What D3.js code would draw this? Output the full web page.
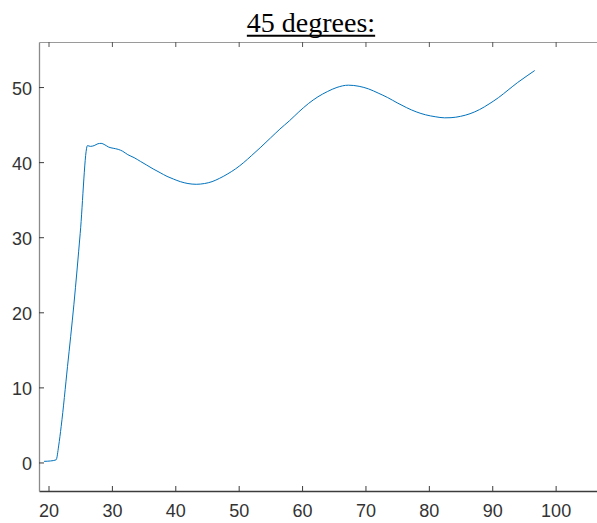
<!DOCTYPE html>
<html>
<head>
<meta charset="utf-8">
<script src="https://cdn.jsdelivr.net/npm/d3@7"></script>
<style>
  html, body { margin: 0; padding: 0; background: #fff; }
  svg { display: block; }
  .tick text { font-family: "Liberation Sans", Arial, sans-serif; font-size: 18px; fill: #333; }
</style>
</head>
<body>
<svg id="chart" width="597" height="523"></svg>
<script>
// Measured response, x position vs. value
const xValues = [19.3, 20.3, 21.2, 21.6, 22.0, 23.0, 24.0, 25.0, 26.15, 26.6, 27.2, 27.8, 28.3,
  28.9, 29.5, 30.2, 31.0, 31.7, 32.5, 33.5, 34.5, 35.5, 36.5, 37.6, 38.7, 39.7, 40.8, 42.0, 43.3, 44.6,
  45.8, 47.0, 48.3, 49.5, 50.8, 52.0, 53.5, 55.0, 56.5, 58.0, 59.5, 61.0, 62.5, 64.0, 65.5, 67.3, 69.0,
  70.5, 72.0, 73.5, 75.0, 76.5, 78.0, 79.5, 81.0, 82.5, 83.5, 85.0, 86.5, 88.0, 89.5, 91.0, 92.5, 94.0,
  95.5, 96.7];
const yValues = [0.15, 0.2, 0.35, 2.2, 4.8, 12.8, 21.0, 30.5, 42.2, 42.1, 42.2, 42.45, 42.5,
  42.3, 42.0, 41.85, 41.7, 41.45, 41.0, 40.6, 40.1, 39.6, 39.1, 38.6, 38.1, 37.75, 37.4, 37.15, 37.05, 37.15,
  37.4, 37.85, 38.45, 39.1, 39.95, 40.85, 42.0, 43.2, 44.4, 45.5, 46.7, 47.8, 48.7, 49.4, 49.95, 50.25, 50.1,
  49.75, 49.2, 48.6, 47.9, 47.25, 46.7, 46.3, 46.05, 45.9, 45.92, 46.1, 46.45, 47.0, 47.75, 48.6, 49.6, 50.6,
  51.5, 52.2];
const xTicks = [20, 30, 40, 50, 60, 70, 80, 90, 100];
const yTicks = [0, 10, 20, 30, 40, 50];
const titleText = "45 degrees:";

const svg = d3.select("#chart");
const plotLeft = 39, plotRight = 600, plotTop = 42, plotBottom = 491;

const x = d3.scaleLinear().domain([18.5, 107]).range([plotLeft, plotRight]);
const y = d3.scaleLinear().domain([-3.8, 56]).range([plotBottom, plotTop]);

const points = xValues.map((v, i) => [v, yValues[i]]);

// Title, underlined
const title = svg.append("text")
  .attr("x", 311).attr("y", 32)
  .attr("text-anchor", "middle")
  .style("font-family", "'Liberation Serif', 'Times New Roman', serif")
  .style("font-size", "28px")
  .style("fill", "#000")
  .text(titleText);
const tw = title.node().getComputedTextLength();
svg.append("line")
  .attr("x1", 311 - tw / 2).attr("x2", 311 + tw / 2)
  .attr("y1", 35.7).attr("y2", 35.7)
  .attr("stroke", "#000").attr("stroke-width", 2);

// Top axis (ticks only)
const gTop = svg.append("g").attr("transform", `translate(0,${plotTop})`)
  .call(d3.axisTop(x).tickValues(xTicks).tickSizeInner(-5).tickSizeOuter(0).tickFormat(""));
gTop.select(".domain").attr("stroke", "#9a9a9a").attr("stroke-width", 1.2);
gTop.selectAll(".tick line").attr("stroke", "#555");

// Bottom axis
const gBottom = svg.append("g").attr("transform", `translate(0,${plotBottom})`)
  .call(d3.axisBottom(x).tickValues(xTicks).tickSizeInner(-5).tickSizeOuter(0).tickPadding(13));
gBottom.select(".domain").attr("stroke", "#3c3c3c").attr("stroke-width", 1.3);
gBottom.selectAll(".tick line").attr("stroke", "#3c3c3c");
gBottom.selectAll(".tick text").attr("dy", "0.71em");

// Left axis
const gLeft = svg.append("g").attr("transform", `translate(${plotLeft},0)`)
  .call(d3.axisLeft(y).tickValues(yTicks).tickSizeInner(-5).tickSizeOuter(0).tickPadding(7));
gLeft.select(".domain").attr("stroke", "#8a8a8a").attr("stroke-width", 1.3);
gLeft.selectAll(".tick line").attr("stroke", "#3c3c3c");
gLeft.selectAll(".tick text").attr("dy", "0.41em");

// Data line
const line = d3.line()
  .x(d => x(d[0]))
  .y(d => y(d[1]))
  .curve(d3.curveMonotoneX);

svg.append("path")
  .datum(points)
  .attr("fill", "none")
  .attr("stroke", "#0072BD")
  .attr("stroke-width", 1)
  .attr("stroke-linejoin", "round")
  .attr("d", line);
</script>
</body>
</html>
